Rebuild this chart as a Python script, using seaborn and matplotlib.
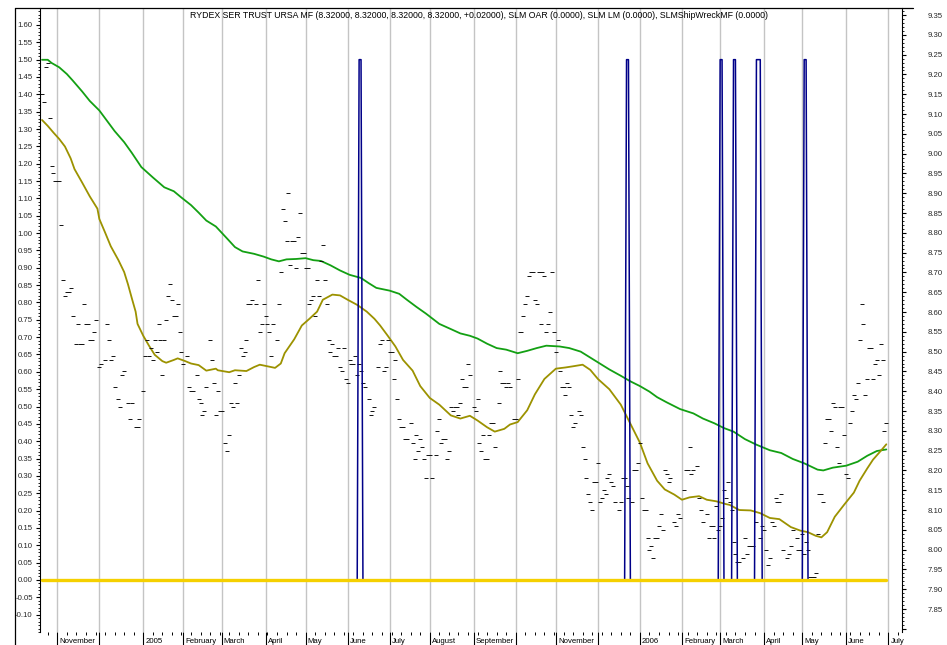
import numpy as np
import pandas as pd
import matplotlib
matplotlib.use("Agg")
import matplotlib.pyplot as plt
import seaborn as sns
from matplotlib.ticker import FixedLocator, MultipleLocator, FuncFormatter
from matplotlib.transforms import ScaledTranslation
from matplotlib.lines import Line2D

sns.set_theme(style="white")
plt.rcParams["font.family"] = ["Liberation Sans", "DejaVu Sans"]

title = ("RYDEX SER TRUST URSA MF (8.32000, 8.32000, 8.32000, 8.32000, +0.02000), "
         "SLM OAR (0.0000), SLM LM (0.0000), SLMShipWreckMF (0.0000)")

first_session = "2004-10-20"
origin_session = "2004-11-01"
last_session = "2006-06-30"

# trading-day number (0 = first session of November 2004) and closing price
price_day = [-8, -7, -6, -5, -4, -3, -2, -1, 0, 1, 2, 3, 4, 5, 6, 7, 8, 10, 11, 12, 13, 14, 15, 16, 17, 18, 19, 20,
             22, 23, 25, 26, 27, 28, 29, 30, 32, 33, 34, 35, 37, 38, 39, 41, 42, 43, 45, 46, 47, 48, 49, 50, 51, 52,
             53, 54, 55, 56, 57, 58, 59, 60, 61, 62, 63, 64, 65, 66, 68, 69, 70, 71, 73, 74, 75, 76, 77, 78, 80, 81,
             82, 83, 84, 85, 86, 88, 89, 90, 91, 92, 93, 94, 95, 96, 97, 98, 99, 100, 101, 102, 104, 105, 106, 107,
             108, 109, 110, 111, 112, 113, 115, 116, 117, 118, 119, 120, 121, 122, 123, 124, 125, 126, 127, 128, 129,
             130, 131, 132, 133, 134, 135, 136, 137, 138, 139, 140, 141, 142, 143, 144, 145, 146, 147, 148, 149, 150,
             151, 152, 153, 154, 155, 156, 157, 158, 159, 160, 161, 163, 164, 165, 166, 168, 169, 170, 171, 172, 173,
             174, 175, 176, 177, 178, 179, 180, 181, 182, 183, 185, 186, 187, 188, 189, 190, 191, 192, 193, 194, 195,
             196, 198, 199, 200, 201, 202, 203, 204, 205, 206, 207, 208, 209, 210, 211, 212, 213, 214, 215, 216, 218,
             219, 220, 221, 222, 223, 224, 225, 226, 227, 228, 229, 231, 232, 233, 234, 235, 236, 237, 239, 240, 241,
             242, 243, 244, 245, 246, 247, 248, 249, 250, 251, 252, 253, 254, 255, 256, 257, 258, 259, 260, 261, 262,
             263, 264, 265, 266, 267, 268, 269, 270, 271, 273, 274, 275, 276, 277, 278, 279, 280, 281, 282, 283, 284,
             285, 286, 287, 288, 289, 290, 291, 292, 294, 295, 296, 297, 298, 299, 301, 302, 303, 304, 305, 306, 307,
             308, 309, 310, 311, 312, 313, 314, 315, 316, 317, 318, 319, 320, 321, 323, 324, 325, 326, 328, 329, 330,
             331, 332, 333, 335, 336, 337, 338, 340, 341, 342, 343, 344, 345, 346, 347, 348, 349, 350, 351, 352, 353,
             354, 355, 356, 357, 359, 360, 361, 362, 363, 364, 366, 368, 369, 370, 371, 372, 373, 374, 375, 376, 377,
             378, 379, 380, 382, 383, 384, 385, 387, 388, 389, 390, 391, 392, 393, 394, 395, 396, 397, 398, 399, 400,
             401, 402, 403, 404, 405, 406, 407, 408, 409, 410, 411, 412, 413, 414, 415, 416, 417, 418, 419, 420, 421,
             422, 423, 424, 425, 426, 427, 428, 429, 430, 431, 432, 433, 434]
price = [9.15, 9.13, 9.22, 9.23, 9.09, 8.97, 8.95, 8.93, 8.93, 8.93, 8.82, 8.68, 8.64, 8.65, 8.65, 8.66, 8.59, 8.52,
         8.57, 8.52, 8.52, 8.62, 8.57, 8.57, 8.53, 8.53, 8.55, 8.58, 8.46, 8.47, 8.48, 8.57, 8.53, 8.48, 8.49, 8.41,
         8.38, 8.36, 8.44, 8.45, 8.37, 8.33, 8.37, 8.31, 8.31, 8.33, 8.40, 8.49, 8.53, 8.49, 8.51, 8.48, 8.53, 8.50,
         8.57, 8.53, 8.44, 8.53, 8.58, 8.64, 8.67, 8.63, 8.59, 8.59, 8.62, 8.55, 8.50, 8.47, 8.49, 8.41, 8.40, 8.40,
         8.44, 8.38, 8.37, 8.34, 8.35, 8.41, 8.53, 8.48, 8.42, 8.34, 8.40, 8.35, 8.35, 8.27, 8.25, 8.29, 8.37, 8.36,
         8.42, 8.37, 8.44, 8.51, 8.49, 8.50, 8.53, 8.62, 8.62, 8.63, 8.62, 8.68, 8.55, 8.57, 8.62, 8.59, 8.57, 8.55,
         8.49, 8.57, 8.53, 8.62, 8.70, 8.86, 8.83, 8.78, 8.90, 8.72, 8.78, 8.78, 8.71, 8.79, 8.85, 8.75, 8.75, 8.71,
         8.71, 8.62, 8.63, 8.64, 8.59, 8.68, 8.64, 8.73, 8.77, 8.68, 8.62, 8.53, 8.50, 8.52, 8.49, 8.49, 8.51, 8.46,
         8.45, 8.51, 8.43, 8.42, 8.48, 8.47, 8.47, 8.49, 8.44, 8.47, 8.45, 8.42, 8.41, 8.38, 8.34, 8.35, 8.36, 8.46,
         8.52, 8.53, 8.45, 8.46, 8.53, 8.50, 8.50, 8.43, 8.48, 8.38, 8.33, 8.31, 8.31, 8.28, 8.28, 8.32, 8.27, 8.23,
         8.29, 8.25, 8.28, 8.26, 8.23, 8.18, 8.24, 8.24, 8.18, 8.24, 8.30, 8.33, 8.27, 8.28, 8.28, 8.23, 8.25, 8.36,
         8.35, 8.36, 8.36, 8.34, 8.37, 8.43, 8.41, 8.41, 8.47, 8.44, 8.36, 8.35, 8.38, 8.27, 8.25, 8.29, 8.23, 8.23,
         8.29, 8.32, 8.32, 8.26, 8.37, 8.45, 8.42, 8.42, 8.41, 8.42, 8.41, 8.33, 8.33, 8.43, 8.55, 8.55, 8.59, 8.62,
         8.64, 8.69, 8.70, 8.70, 8.63, 8.62, 8.70, 8.57, 8.70, 8.69, 8.55, 8.57, 8.60, 8.70, 8.55, 8.50, 8.53, 8.45,
         8.41, 8.41, 8.39, 8.42, 8.41, 8.34, 8.31, 8.32, 8.35, 8.34, 8.26, 8.23, 8.18, 8.14, 8.12, 8.10, 8.17, 8.17,
         8.22, 8.12, 8.13, 8.15, 8.14, 8.18, 8.19, 8.17, 8.16, 8.12, 8.10, 8.12, 8.18, 8.18, 8.16, 8.13, 8.12, 8.20,
         8.20, 8.22, 8.27, 8.13, 8.10, 8.10, 8.03, 8.00, 8.01, 7.98, 8.03, 8.03, 8.06, 8.09, 8.05, 8.20, 8.19, 8.17,
         8.18, 8.07, 8.06, 8.09, 8.08, 8.15, 8.20, 8.20, 8.26, 8.19, 8.20, 8.21, 8.13, 8.10, 8.07, 8.09, 8.03, 8.06,
         8.06, 8.03, 8.11, 8.05, 8.06, 8.08, 8.15, 8.13, 8.17, 8.12, 8.10, 8.02, 7.99, 7.97, 7.97, 7.98, 8.03, 7.99,
         8.01, 8.01, 8.01, 8.07, 8.03, 8.06, 8.05, 8.00, 7.96, 7.98, 8.07, 8.06, 8.13, 8.12, 8.12, 8.14, 8.00, 7.98,
         7.99, 8.01, 8.05, 8.03, 8.00, 8.00, 8.04, 7.99, 8.02, 8.00, 7.93, 7.93, 7.93, 7.94, 8.04, 8.14, 8.14, 8.12,
         8.27, 8.33, 8.33, 8.30, 8.37, 8.36, 8.26, 8.22, 8.36, 8.36, 8.29, 8.19, 8.18, 8.32, 8.35, 8.39, 8.38, 8.42,
         8.53, 8.62, 8.57, 8.39, 8.43, 8.51, 8.51, 8.43, 8.47, 8.48, 8.44, 8.52, 8.48, 8.30, 8.32]

# slow (green) and fast (olive) averages, read at irregular trading days
slow_day = [-8, -5, -3, 1, 5, 8, 13, 17, 22, 26, 30, 35, 39, 44, 50, 56, 61, 65, 70, 74, 78, 83, 89, 93, 97, 103,
            108, 112, 116, 120, 125, 130, 134, 138, 143, 148, 153, 159, 163, 167, 174, 179, 183, 188, 193, 200, 206,
            211, 216, 220, 225, 230, 235, 241, 246, 251, 256, 263, 268, 274, 279, 284, 289, 295, 300, 305, 310, 314,
            319, 326, 333, 338, 344, 349, 354, 360, 366, 373, 379, 385, 391, 398, 401, 406, 413, 419, 424, 429, 434]
slow_avg = [9.237, 9.237, 9.229, 9.218, 9.201, 9.185, 9.157, 9.133, 9.109, 9.083, 9.057, 9.029, 9.002, 8.966, 8.940,
            8.915, 8.905, 8.889, 8.870, 8.851, 8.831, 8.816, 8.785, 8.764, 8.753, 8.747, 8.740, 8.733, 8.728, 8.733,
            8.734, 8.736, 8.731, 8.729, 8.718, 8.705, 8.694, 8.686, 8.673, 8.661, 8.654, 8.646, 8.631, 8.613, 8.596,
            8.570, 8.557, 8.546, 8.540, 8.533, 8.520, 8.509, 8.505, 8.496, 8.502, 8.509, 8.515, 8.513, 8.509, 8.500,
            8.485, 8.470, 8.455, 8.439, 8.425, 8.413, 8.399, 8.385, 8.372, 8.355, 8.344, 8.331, 8.319, 8.307, 8.298,
            8.279, 8.265, 8.251, 8.244, 8.229, 8.218, 8.202, 8.200, 8.207, 8.212, 8.222, 8.237, 8.249, 8.253]
fast_day = [-8, -5, -2, 1, 4, 7, 9, 13, 17, 21, 22, 25, 28, 32, 35, 37, 39, 41, 42, 45, 48, 51, 55, 57, 61, 63, 67,
            70, 74, 78, 83, 84, 90, 93, 99, 103, 106, 110, 114, 117, 119, 124, 128, 132, 136, 139, 144, 148, 152, 157,
            162, 166, 169, 173, 177, 181, 186, 190, 195, 200, 206, 211, 216, 220, 225, 229, 234, 237, 241, 246, 250,
            255, 261, 266, 270, 275, 279, 283, 289, 295, 300, 305, 309, 314, 318, 323, 327, 331, 336, 340, 345, 350,
            352, 357, 363, 368, 373, 378, 384, 389, 393, 397, 400, 403, 407, 412, 417, 420, 424, 427, 431, 434]
fast_avg = [9.085, 9.070, 9.053, 9.037, 9.018, 8.988, 8.961, 8.927, 8.892, 8.861, 8.835, 8.801, 8.766, 8.731, 8.701,
            8.670, 8.635, 8.601, 8.570, 8.540, 8.515, 8.492, 8.476, 8.472, 8.479, 8.483, 8.476, 8.470, 8.466, 8.452,
            8.457, 8.453, 8.448, 8.453, 8.451, 8.461, 8.467, 8.463, 8.459, 8.470, 8.496, 8.531, 8.566, 8.583, 8.601,
            8.631, 8.644, 8.642, 8.631, 8.618, 8.601, 8.583, 8.566, 8.540, 8.513, 8.479, 8.452, 8.413, 8.383, 8.366,
            8.339, 8.331, 8.338, 8.326, 8.309, 8.298, 8.305, 8.316, 8.322, 8.352, 8.392, 8.431, 8.457, 8.460, 8.463,
            8.467, 8.454, 8.431, 8.405, 8.366, 8.318, 8.270, 8.218, 8.174, 8.152, 8.139, 8.126, 8.132, 8.135, 8.126,
            8.122, 8.115, 8.113, 8.100, 8.099, 8.092, 8.080, 8.077, 8.057, 8.048, 8.044, 8.035, 8.031, 8.044, 8.083,
            8.114, 8.144, 8.174, 8.205, 8.227, 8.249, 8.266]

# SLM ShipWreck signal: days at the upper level, everything else at zero
spike_days = [158, 159, 298, 299, 347, 348, 354, 355, 366, 367, 368, 391, 392]
spike_level = 1.5
oar_level = 0.0

month_labels = ["November", "", "2005", "February", "March", "April", "May", "June", "July", "August",
                "September", "", "November", "", "2006", "February", "March", "April", "May", "June", "July"]

# ---- calendar of trading sessions ----
sessions = pd.bdate_range(first_session, "2006-07-31")
day_num = pd.Series(np.arange(len(sessions)) - sessions.get_loc(pd.Timestamp(origin_session)), index=sessions)
all_days = day_num[sessions <= pd.Timestamp(last_session)].values
firsts = day_num.groupby(sessions.to_period("M")).min()
month_pos = firsts[firsts.index >= pd.Period("2004-11", "M")].values
mondays = day_num[sessions.dayofweek == 0].values

price_df = pd.DataFrame({"day": price_day, "price": price})
slow_df = pd.DataFrame({"day": slow_day, "value": slow_avg})
fast_df = pd.DataFrame({"day": fast_day, "value": fast_avg})
signal = pd.Series(0.0, index=all_days)
signal.loc[spike_days] = spike_level
sig_df = pd.DataFrame({"day": all_days, "value": signal.values})
oar_df = pd.DataFrame({"day": all_days, "value": oar_level})

# ---- figure ----
W, H = 947, 645
fig = plt.figure(figsize=(W / 100, H / 100), dpi=100)
fig.patch.set_facecolor("white")
L, R, T, B = 40, 902, 8.3, 632
ax = fig.add_axes([L / W, 1 - B / H, (R - L) / W, (B - T) / H])
ax.set_facecolor("white")
axs = ax.twinx()   # signal axis (left scale), drawn on top of the price axis

# ---- price axis (right scale) ----
sns.lineplot(data=slow_df, x="day", y="value", ax=ax, color="#13a013", lw=1.3, zorder=3)
sns.lineplot(data=fast_df, x="day", y="value", ax=ax, color="#9c9200", lw=1.3, zorder=3)
sns.scatterplot(data=price_df, x="day", y="price", ax=ax, marker="_", s=6, color="#111111",
                linewidth=0.7, zorder=4)
ax.set_xlim(-9.06, 442.2)
ax.set_ylim(7.792, 9.367)
ax.set_xlabel("")
ax.set_ylabel("")
ax.yaxis.tick_right()
ax.yaxis.set_label_position("right")
ax.yaxis.set_major_locator(MultipleLocator(0.05))
ax.yaxis.set_minor_locator(MultipleLocator(0.01))
ax.yaxis.set_major_formatter(FuncFormatter(lambda v, p: "" if v < 7.83 else f"{v:.2f}"))
ax.tick_params(axis="y", which="major", direction="out", length=3.2, width=0.8, color="black",
               labelsize=5.6, pad=15, right=True, left=False, labelright=True, labelleft=False)
ax.tick_params(axis="y", which="minor", direction="out", length=1.6, width=0.6, color="black",
               right=True, left=False)

ax.xaxis.set_major_locator(FixedLocator(month_pos))
ax.xaxis.set_minor_locator(FixedLocator(mondays))
ax.set_xticklabels(month_labels)
ax.grid(axis="x", which="major", color="#c4c4c4", lw=1.0)
ax.grid(axis="y", visible=False)
ax.tick_params(axis="x", which="major", direction="out", length=9.4, width=0.8, color="black",
               pad=-5.2, labelsize=5.6, labelcolor="black", bottom=True, top=False)
ax.tick_params(axis="x", which="minor", direction="out", length=2, width=0.7, color="black",
               bottom=True, top=False)
for lab in ax.get_xticklabels():
    lab.set_horizontalalignment("left")
    lab.set_transform(lab.get_transform() + ScaledTranslation(1.5 / 72, 0, fig.dpi_scale_trans))

for s in ["top", "bottom", "left"]:
    ax.spines[s].set_visible(False)
ax.spines["right"].set_visible(True)
ax.spines["right"].set_color("black")
ax.spines["right"].set_linewidth(0.8)

# ---- signal axis (left scale) ----
sns.lineplot(data=sig_df, x="day", y="value", ax=axs, color="#000088", lw=1.1, zorder=3)
sns.lineplot(data=oar_df, x="day", y="value", ax=axs, color="#f5d000", lw=2.4, zorder=4)
axs.set_xlim(-9.06, 442.2)
axs.set_ylim(-0.150, 1.648)
axs.set_ylabel("")
axs.set_xlabel("")
axs.yaxis.tick_left()
axs.yaxis.set_label_position("left")
axs.yaxis.set_major_locator(FixedLocator(np.round(np.arange(-0.10, 1.6001, 0.05), 2)))
axs.yaxis.set_minor_locator(MultipleLocator(0.01))
axs.yaxis.set_major_formatter(FuncFormatter(lambda v, p: f"{v:.2f}"))
axs.tick_params(axis="y", which="major", direction="out", length=3.2, width=0.8, color="black",
                labelsize=5.6, pad=2, left=True, right=False, labelleft=True, labelright=False)
axs.tick_params(axis="y", which="minor", direction="out", length=1.6, width=0.6, color="black",
                left=True, right=False)
for s in ["top", "bottom", "right"]:
    axs.spines[s].set_visible(False)
axs.spines["left"].set_visible(True)
axs.spines["left"].set_color("black")
axs.spines["left"].set_linewidth(0.8)

# ---- outer frame and title ----
fig.add_artist(Line2D([15 / W, 15 / W], [0, 1 - 8.3 / H], transform=fig.transFigure, color="black", lw=0.9))
fig.add_artist(Line2D([15 / W, 913 / W], [1 - 8.3 / H, 1 - 8.3 / H], transform=fig.transFigure,
                      color="black", lw=0.9))
fig.text(479 / W, 1 - 16 / H, title, ha="center", va="center", fontsize=6.35, color="black")

fig.savefig("out.png", dpi=100, facecolor="white")
